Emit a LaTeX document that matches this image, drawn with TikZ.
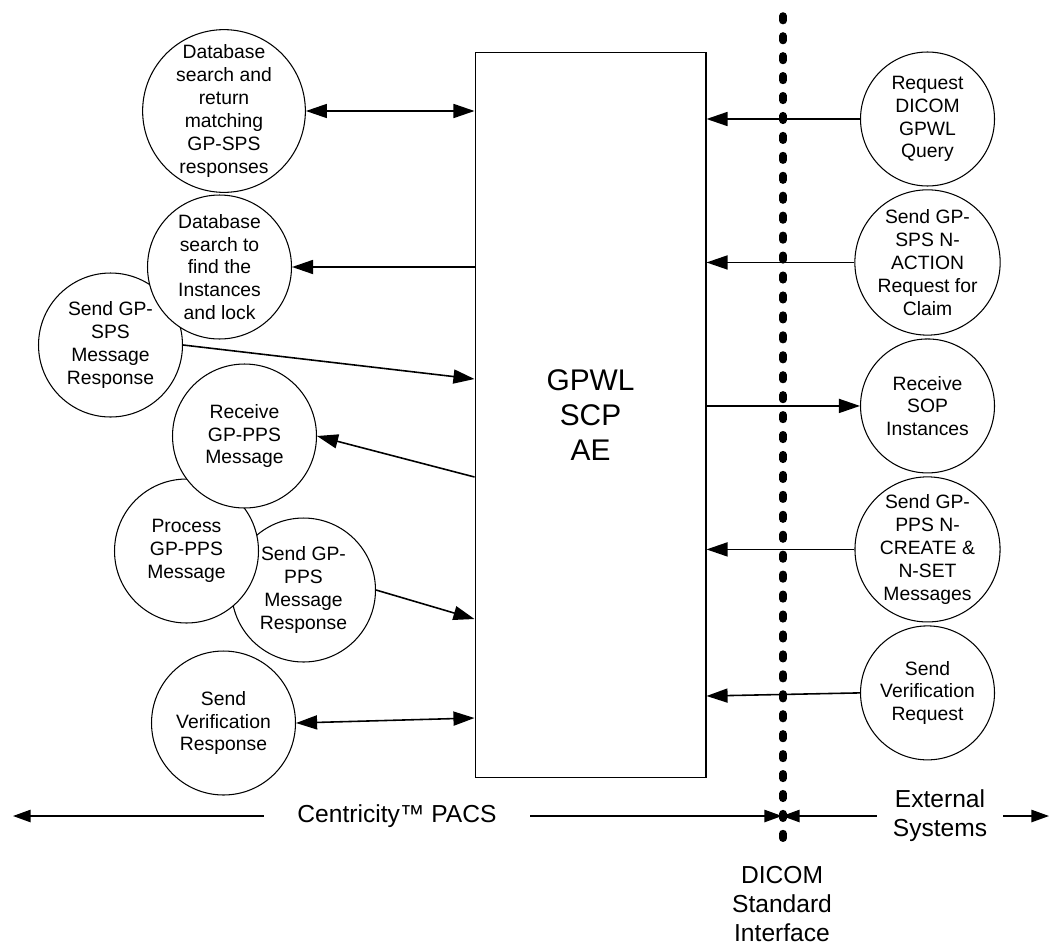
\documentclass[tikz,border=0pt]{standalone}
\usepackage{fontspec}
\setmainfont{Liberation Sans}
\usetikzlibrary{arrows.meta}

\tikzset{
  proc/.style={draw, circle, fill=white, line width=0.6pt, minimum size=2.88cm, inner sep=0pt, align=center, font=\fontsize{11}{13}\selectfont},
  ext/.style={proc, minimum size=2.68cm},
  flow/.style={line width=0.9pt, >={Triangle[length=12pt,width=8pt]}},
  span/.style={line width=0.9pt, >={Triangle[length=10pt,width=7pt]}},
  label/.style={font=\fontsize{14}{16.5}\selectfont, align=center}
}

\begin{document}
\begin{tikzpicture}[x=0.02cm, y=-0.02cm, node distance=2.87cm]
    \useasboundingbox (0,0) rectangle (1053,946);

    \node (scp) [draw, rectangle, line width=0.6pt, minimum width=4.62cm, minimum height=14.52cm, align=center, font=\fontsize{17}{20}\selectfont] at (590.5,415) {GPWL\\SCP\\AE};

    \node (spsresp) [proc] at (110.5,345) {Send GP-\\SPS\\Message\\Response};
    \node (dbfind) [proc] at (219.5,267) {Database\\search to\\find the\\Instances\\and lock};
    \node (dbret) [proc] at (224,111) {Database\\search and\\return\\matching\\GP-SPS\\responses};
    \node (ppsresp) [proc] at (303.5,590) {Send GP-\\PPS\\Message\\Response};
    \node (procpps) [proc] at (186.5,551) {Process\\GP-PPS\\Message};
    \node (rcvpps) [proc] at (244.5,436) {Receive\\GP-PPS\\Message};
    \node (verresp) [proc] at (223.5,723) {Send\\Verification\\Response};

    \node (gpwlq) [ext] at (927.5,119) {Request\\DICOM\\GPWL\\Query};
    \node (claim) [ext, below of=gpwlq] {Send GP-\\SPS N-\\ACTION\\Request for\\Claim};
    \node (sop) [ext, below of=claim] {Receive\\SOP\\Instances};
    \node (ppsset) [ext, below of=sop] {Send GP-\\PPS N-\\CREATE \&\\N-SET\\Messages};
    \node (verreq) [ext, below of=ppsset] {Send\\Verification\\Request};

    \coordinate (dtop) at (783,16);
    \coordinate (dbot) at (783,850);
    \draw[line width=4.3pt, line cap=round, dash pattern=on 2.6pt off 8.75pt] (dtop) -- (dbot);

    \draw[flow, <->] (dbret) -- (scp.west |- dbret);
    \draw[flow, ->] (scp.west |- dbfind) -- (dbfind);
    \draw[flow, ->] (spsresp.east) -- (scp.west |- 0,379);
    \draw[flow, ->] (scp.west |- 0,477) -- (rcvpps.east);
    \draw[flow, ->] (ppsresp.east) -- (scp.west |- 0,619);
    \draw[flow, <->] (verresp.east) -- (scp.west |- 0,718);

    \draw[flow, ->] (gpwlq) -- (scp.east |- gpwlq);
    \draw[flow, ->] (claim) -- (scp.east |- claim);
    \draw[flow, ->] (scp.east |- sop) -- (sop);
    \draw[flow, ->] (ppsset) -- (scp.east |- ppsset);
    \draw[flow, ->] (verreq.west) -- (scp.east |- 0,696);

    \node (pacs) [label, inner xsep=19pt] at (397,816) {Centricity™ PACS};
    \node (extsys) [label, inner xsep=9pt] at (940,816) {External\\Systems};
    \node (dicom) [label] at (782,904) {DICOM\\Standard\\Interface};
    \coordinate (lend) at (13,816);
    \coordinate (dint) at (782,816);
    \coordinate (rend) at (1049,816);

    \draw[span, ->] (pacs) -- (lend);
    \draw[span, ->] (pacs) -- (dint);
    \draw[span, ->] (extsys) -- (dint);
    \draw[span, ->] (extsys) -- (rend);
\end{tikzpicture}
\end{document}
